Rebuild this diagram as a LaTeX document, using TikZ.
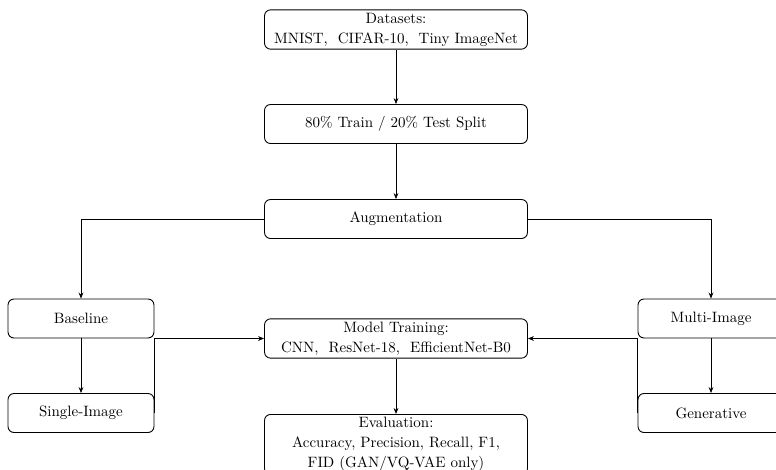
\documentclass[tikz,border=0pt]{standalone}
\usetikzlibrary{arrows.meta}
\begin{document}
\begin{tikzpicture}[x=0.6667pt,y=-0.6667pt,
  box/.style={draw, rounded corners=4pt, line width=0.6pt, align=center,
    minimum width=175.3pt, minimum height=26pt, inner sep=2pt,
    font=\fontsize{10}{13.3}\selectfont},
  sbox/.style={box, minimum width=97.3pt},
  arr/.style={-{Stealth[length=4pt,width=3.2pt]}, line width=0.5pt}]
\useasboundingbox (0,0) rectangle (776,470);
\clip (0,0) rectangle (776,470);
\node[box] (data) at (396,29.5) {Datasets:\\MNIST,\ \ CIFAR-10,\ \ Tiny ImageNet};
\node[box] (split) at (396,124) {80\% Train / 20\% Test Split};
\node[box] (aug) at (396,219) {Augmentation};
\node[sbox] (base) at (81,318.5) {Baseline};
\node[sbox] (single) at (81,413) {Single-Image};
\node[sbox] (multi) at (711,318.5) {Multi-Image};
\node[sbox] (gen) at (711,413) {Generative};
\node[box] (model) at (396,338.5) {Model Training:\\CNN,\ \ ResNet-18,\ \ EfficientNet-B0};
\node[box, anchor=north] (eval) at (396,414) {Evaluation:\\Accuracy, Precision, Recall, F1,\\FID (GAN/VQ-VAE only)};
\draw[arr] (data) -- (split);
\draw[arr] (split) -- (aug);
\draw[arr] (aug.west) -| (base.north);
\draw[arr] (aug.east) -| (multi.north);
\draw[arr] (base) -- (single);
\draw[arr] (multi) -- (gen);
\draw[arr] (single.east) |- (model.west);
\draw[arr] (gen.west) |- (model.east);
\draw[arr] (model) -- (eval);
\end{tikzpicture}
\end{document}
